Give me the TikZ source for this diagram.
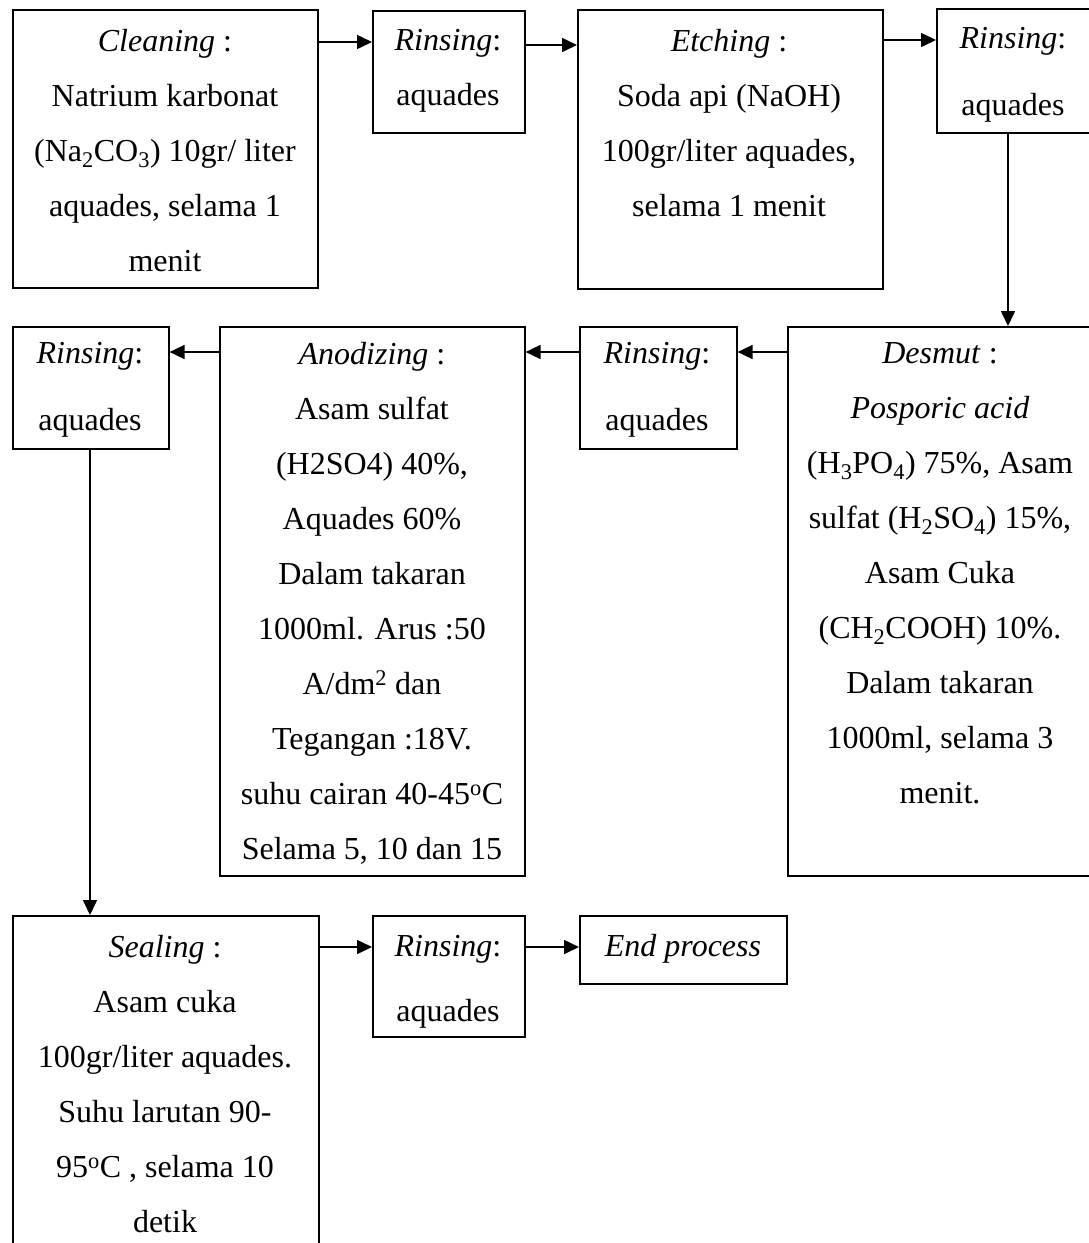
\documentclass[tikz,border=0pt]{standalone}
\usepackage{fontspec}
\setmainfont{Liberation Serif}
\usetikzlibrary{arrows.meta}
\begin{document}
\begin{tikzpicture}[x=1pt,y=-1pt,
  box/.style={draw, line width=1.6pt, inner sep=0pt, anchor=north west},
  txt/.style={anchor=north, align=center, inner sep=0pt, font=\fontsize{32}{55}\selectfont},
  arr/.style={line width=1.6pt, -{Triangle[length=15pt,width=14pt]}}]
\fill[white] (0,0) rectangle (1088,1243);
\useasboundingbox (0,0) rectangle (1088,1243);
% boxes
\node[box, minimum width=305pt, minimum height=278pt] (clean) at (12,9) {};
\node[box, minimum width=152pt, minimum height=122pt] (rin1) at (372,10) {};
\node[box, minimum width=305pt, minimum height=279pt] (etch) at (577,9) {};
\node[box, minimum width=156pt, minimum height=124pt] (rin2) at (936,8) {};
\node[box, minimum width=310pt, minimum height=549pt] (des) at (787,326) {};
\node[box, minimum width=157pt, minimum height=122pt] (rin3) at (579,326) {};
\node[box, minimum width=305pt, minimum height=549pt] (anod) at (219,326) {};
\node[box, minimum width=156pt, minimum height=122pt] (rin4) at (12,326) {};
\node[box, minimum width=306pt, minimum height=340pt] (seal) at (12,915) {};
\node[box, minimum width=152pt, minimum height=121pt] (rin5) at (372,915) {};
\node[box, minimum width=207pt, minimum height=68pt] (endp) at (579,915) {};
% texts
\node[txt] (cleanT) at (165,29) {\textit{Cleaning} :\\ Natrium karbonat\\ (Na\textsubscript{2}CO\textsubscript{3}) 10gr/ liter\\ aquades, selama 1\\ menit};
\node[txt] (rin1T) at (448,29) {\textit{Rinsing}:\\ aquades};
\node[txt] (etchT) at (729,29) {\textit{Etching} :\\ Soda api (NaOH)\\ 100gr/liter aquades,\\ selama 1 menit};
\node[txt] (rin2T) at (1013,27) {\textit{Rinsing}:\\[12pt] aquades};
\node[txt] (desT) at (940,342) {\textit{Desmut} :\\ \textit{Posporic acid}\\ (H\textsubscript{3}PO\textsubscript{4}) 75\%, Asam\\ sulfat (H\textsubscript{2}SO\textsubscript{4}) 15\%,\\ Asam Cuka\\ (CH\textsubscript{2}COOH) 10\%.\\ Dalam takaran\\ 1000ml, selama 3\\ menit.};
\node[txt] (rin3T) at (657,342) {\textit{Rinsing}:\\[12pt] aquades};
\node[txt] (anodT) at (372,342) {\textit{Anodizing} :\\ Asam sulfat\\ (H2SO4) 40\%,\\ Aquades 60\%\\ Dalam takaran\\ 1000ml. Arus :50\\ A/dm\textsuperscript{2} dan\\ Tegangan :18V.\\ suhu cairan 40-45\textsuperscript{o}C\\ Selama 5, 10 dan 15};
\node[txt] (rin4T) at (90,342) {\textit{Rinsing}:\\[12pt] aquades};
\node[txt] (sealT) at (165,935) {\textit{Sealing} :\\ Asam cuka\\ 100gr/liter aquades.\\ Suhu larutan 90-\\ 95\textsuperscript{o}C , selama 10\\ detik};
\node[txt] (rin5T) at (448,935) {\textit{Rinsing}:\\[10pt] aquades};
\node[txt] (endT) at (683,934) {\textit{End process}};
% connectors
\draw[arr] ([yshift=-33pt]clean.north east) -- ([yshift=-33pt]clean.north east -| rin1.west);
\draw[arr] ([yshift=-35pt]rin1.north east) -- ([yshift=-35pt]rin1.north east -| etch.west);
\draw[arr] ([yshift=-31pt]etch.north east) -- ([yshift=-31pt]etch.north east -| rin2.west);
\draw[arr] ([xshift=72pt]rin2.south west) -- ([xshift=72pt]rin2.south west |- des.north);
\draw[arr] ([yshift=-26pt]des.north west) -- ([yshift=-26pt]des.north west -| rin3.east);
\draw[arr] ([yshift=-26pt]rin3.north west) -- ([yshift=-26pt]rin3.north west -| anod.east);
\draw[arr] ([yshift=-26pt]anod.north west) -- ([yshift=-26pt]anod.north west -| rin4.east);
\draw[arr] ([xshift=78pt]rin4.south west) -- ([xshift=78pt]rin4.south west |- seal.north);
\draw[arr] ([yshift=-32pt]seal.north east) -- ([yshift=-32pt]seal.north east -| rin5.west);
\draw[arr] ([yshift=-32pt]rin5.north east) -- ([yshift=-32pt]rin5.north east -| endp.west);
\end{tikzpicture}
\end{document}
